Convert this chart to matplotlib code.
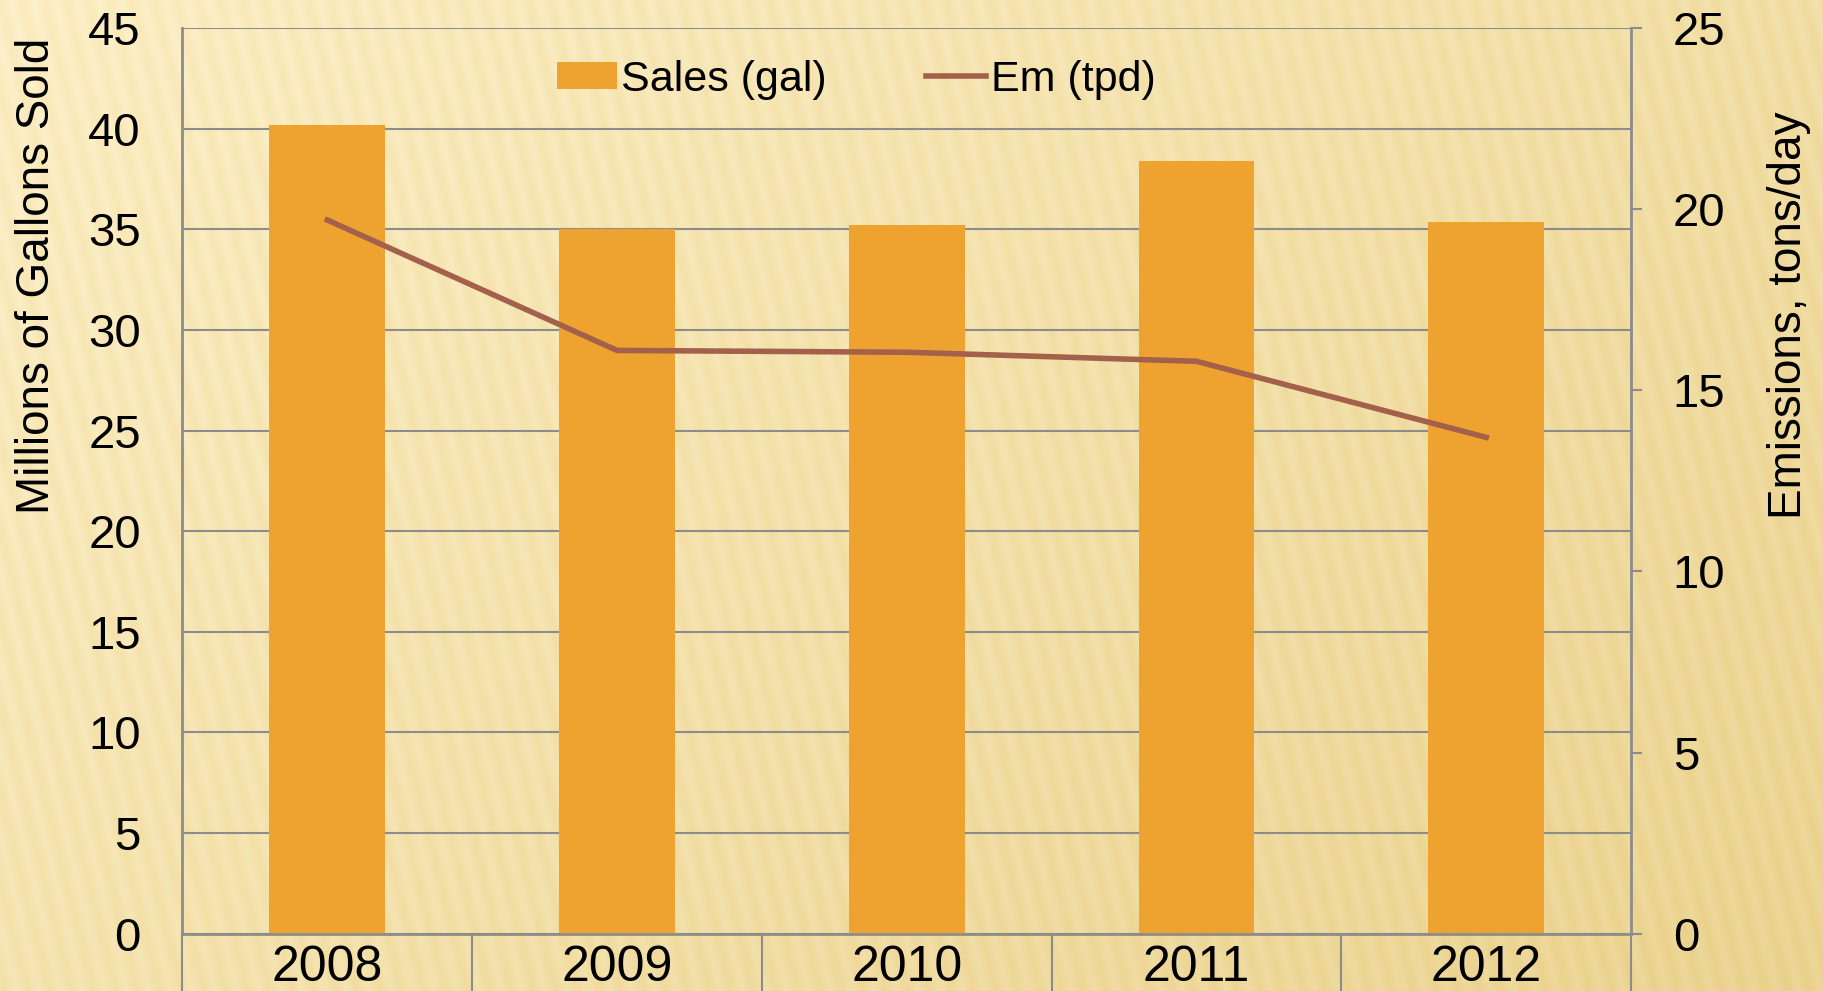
import numpy as np
import matplotlib.pyplot as plt

years = ['2008', '2009', '2010', '2011', '2012']
sales = [40.2, 35.0, 35.2, 38.4, 35.35]   # millions of gallons
emissions = [19.7, 16.1, 16.05, 15.8, 13.7]  # tons/day

plt.rcParams['font.family'] = ['Liberation Sans', 'DejaVu Sans']
grey = '#8c8c8c'

fig = plt.figure(figsize=(18.23, 9.91), dpi=100)

# textured cream background
h, w = 991, 1823
yy, xx = np.mgrid[0:h, 0:w]
t = (xx / w * 0.6 + yy / h * 0.4)
top = np.array([253, 241, 202]) / 255
bot = np.array([236, 214, 150]) / 255
img = top[None, None, :] * (1 - t[..., None]) + bot[None, None, :] * t[..., None]
stripes = np.sin(2 * np.pi * (xx + 0.25 * (h - yy)) / 22.0)
img = img - 0.025 * (stripes[..., None] + 1) * np.array([0.2, 0.5, 1.0])
img = np.clip(img, 0, 1)
bg = fig.add_axes([0, 0, 1, 1], zorder=-1)
bg.imshow(img, aspect='auto', interpolation='bilinear')
bg.axis('off')

ax = fig.add_axes([0.1001, 0.0579, 0.7946, 0.9138])
ax.set_facecolor('none')
x = np.arange(len(years))
ax.bar(x, sales, width=0.4, color='#eea22f', label='Sales (gal)', zorder=2)
ax.set_xlim(-0.5, len(years) - 0.5)
ax.set_ylim(0, 45)
ax.set_yticks(np.arange(0, 46, 5))
ax.yaxis.grid(True, color=grey, linewidth=1.5, zorder=0)
ax.set_axisbelow(True)
ax.tick_params(axis='y', length=0, labelsize=34, pad=30)
ax.set_ylabel('Millions of Gallons Sold', fontsize=33)
ax.yaxis.set_label_coords(-0.085, 0.726)

# category separators + labels
ax.set_xticks(np.arange(-0.5, len(years), 1.0))
ax.set_xticklabels([])
ax.tick_params(axis='x', which='major', length=45, width=1.5, color=grey)
ax.set_xticks(x, minor=True)
ax.set_xticklabels(years, minor=True, fontsize=36)
ax.tick_params(axis='x', which='minor', length=0, pad=8)

for s in ['left', 'bottom']:
    ax.spines[s].set_color(grey)
    ax.spines[s].set_linewidth(2)
for s in ['top', 'right']:
    ax.spines[s].set_visible(False)

ax2 = ax.twinx()
ax2.plot(x, emissions, color='#a3604a', linewidth=4, label='Em (tpd)', zorder=3)
ax2.set_ylim(0, 25)
ax2.set_yticks(np.arange(0, 26, 5))
ax2.tick_params(axis='y', length=8, width=1.5, color=grey, labelsize=34, pad=22)
ax2.set_ylabel('Emissions, tons/day', fontsize=33)
ax2.yaxis.set_label_coords(1.094, 0.683)
for s in ['left', 'bottom', 'top']:
    ax2.spines[s].set_visible(False)
ax2.spines['right'].set_color(grey)
ax2.spines['right'].set_linewidth(2)

h1, l1 = ax.get_legend_handles_labels()
h2, l2 = ax2.get_legend_handles_labels()
ax2.legend(h1 + h2, l1 + l2, loc='center', bbox_to_anchor=(0.465, 0.943),
           ncol=2, frameon=False, prop={'size': 31},
           handlelength=1.4, handleheight=0.6, handletextpad=0.1,
           columnspacing=2.3)

fig.savefig('out.png', dpi=100)
